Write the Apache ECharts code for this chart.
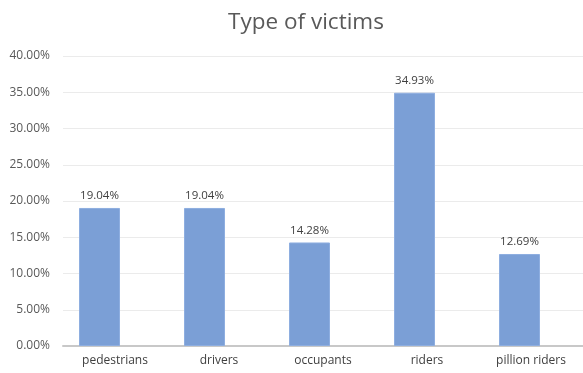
<!DOCTYPE html>
<html>
<head>
<meta charset="utf-8">
<script src="https://cdn.jsdelivr.net/npm/echarts@6/dist/echarts.min.js"></script>
<style>
html,body{margin:0;padding:0;background:#fff;}
#chart{width:583px;height:373px;}
</style>
</head>
<body>
<div id="chart"></div>
<script>
const title = 'Type of victims';
const categories = ['pedestrians', 'drivers', 'occupants', 'riders', 'pillion riders'];
const values = [19.04, 19.04, 14.28, 34.93, 12.69];
const yTicks = [0, 5, 10, 15, 20, 25, 30, 35, 40];

const FONT = '"Open Sans", sans-serif';
const chart = echarts.init(document.getElementById('chart'), null, {renderer: 'canvas'});
chart.setOption({
  animation: false,
  backgroundColor: '#ffffff',
  title: {
    text: title,
    left: 301,
    top: 6,
    textAlign: 'center',
    textStyle: {fontFamily: FONT, fontSize: 22.5, fontWeight: 'normal', color: '#595959'}
  },
  grid: [
    {left: 63, top: 56, width: 525, bottom: 27, containLabel: false},
    {left: 47, top: 56, width: 525, bottom: 27, containLabel: false}
  ],
  xAxis: [
    {
      type: 'category', gridIndex: 0, data: categories,
      axisLine: {show: true, lineStyle: {color: '#c8c8c8', width: 2}},
      axisTick: {show: false},
      axisLabel: {fontFamily: FONT, fontSize: 12, color: '#404040', margin: 9}
    },
    {
      type: 'category', gridIndex: 1, data: categories,
      axisLine: {show: false}, axisTick: {show: false}, axisLabel: {show: false}
    }
  ],
  yAxis: [
    {
      type: 'value', gridIndex: 0, min: yTicks[0], max: yTicks[yTicks.length - 1], interval: 5,
      axisLine: {show: false}, axisTick: {show: false},
      splitLine: {lineStyle: {color: '#ebebeb', width: 1}},
      axisLabel: {fontFamily: FONT, fontSize: 12, color: '#595959', margin: 13,
        formatter: v => v.toFixed(2) + '%'}
    },
    {
      type: 'value', gridIndex: 1, min: yTicks[0], max: yTicks[yTicks.length - 1], interval: 5,
      show: false
    }
  ],
  series: [{
    type: 'bar',
    xAxisIndex: 1, yAxisIndex: 1,
    data: values,
    barWidth: 41,
    itemStyle: {color: '#7b9fd6', borderColor: '#8eaee0', borderWidth: 1},
    label: {
      show: true, position: 'top', distance: 6,
      fontFamily: FONT, fontSize: 11.5, color: '#404040',
      formatter: p => p.value.toFixed(2) + '%'
    }
  }]
});
</script>
</body>
</html>
